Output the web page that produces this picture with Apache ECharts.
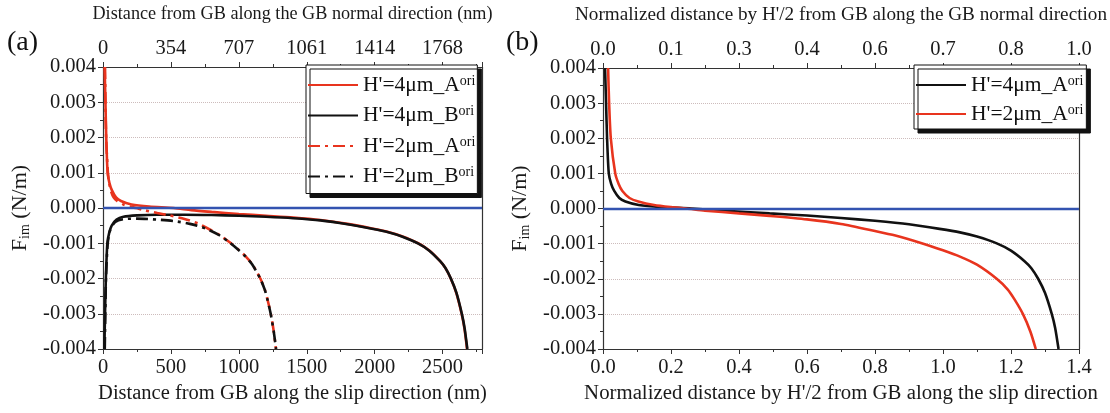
<!DOCTYPE html>
<html><head><meta charset="utf-8">
<script src="https://cdn.jsdelivr.net/npm/echarts@6/dist/echarts.min.js"></script>
<style>html,body{margin:0;padding:0;background:#fff}#c{width:1110px;height:413px}</style>
</head><body><div id="c"></div>
<script>
const FONT = "'Liberation Serif','Times New Roman',serif";

// ---- tick labels ----
const yTickLabels = ['-0.004','-0.003','-0.002','-0.001','0.000','0.001','0.002','0.003','0.004'];
const leftBottomTicks = ['0','500','1000','1500','2000','2500'];
const leftTopTicks = ['0','354','707','1061','1414','1768'];
const rightBottomTicks = ['0.0','0.2','0.4','0.6','0.8','1.0','1.2','1.4'];
const rightTopTicks = ['0.0','0.1','0.3','0.4','0.6','0.7','0.8','1.0'];

// ---- legend labels ----
const legendLeft = ["H'=4μm_A", "H'=4μm_B", "H'=2μm_A", "H'=2μm_B"];
const legendRight = ["H'=4μm_A", "H'=2μm_A"];

// ---- (a) distance along slip direction (nm), F_im (N/m) ----
const a_H4A = [[12,0.0040],[18,0.0030],[24,0.0020],[34,0.0010],[48,0.0007],[66,0.0005],[96,0.0003],[132,0.0002],[210,0.0001],[340,0.00004],[520,0.0],[650,-0.00006],[800,-0.00011],[1000,-0.00017],[1200,-0.00022],[1400,-0.00027],[1600,-0.00034],[1800,-0.00045],[1980,-0.00058],[2100,-0.00068],[2200,-0.0008],[2320,-0.001],[2400,-0.0012],[2480,-0.0015],[2520,-0.0017],[2560,-0.002],[2600,-0.0024],[2640,-0.003],[2660,-0.0034],[2680,-0.0040]];
const a_H4B = [[10,-0.0040],[15,-0.0030],[21,-0.0020],[32,-0.0010],[46,-0.0007],[64,-0.0005],[100,-0.00033],[150,-0.00025],[250,-0.00021],[400,-0.00019],[600,-0.00019],[800,-0.0002],[1000,-0.00022],[1200,-0.00025],[1400,-0.00029],[1600,-0.00035],[1800,-0.00046],[1980,-0.00059],[2100,-0.00069],[2200,-0.00081],[2322,-0.00101],[2402,-0.00121],[2482,-0.00151],[2522,-0.00171],[2562,-0.00201],[2602,-0.00241],[2642,-0.00301],[2662,-0.00341],[2682,-0.0040]];
const a_H2A = [[15,0.0040],[18,0.0030],[23,0.0020],[36,0.0010],[46,0.0007],[57,0.0005],[78,0.0003],[104,0.0002],[150,0.0001],[200,0.00004],[245,0.0],[300,-0.00006],[400,-0.00014],[490,-0.00021],[600,-0.00031],[700,-0.00044],[800,-0.00064],[860,-0.00077],[935,-0.00098],[1000,-0.00119],[1050,-0.00137],[1100,-0.0016],[1158,-0.002],[1190,-0.0023],[1210,-0.00258],[1235,-0.003],[1257,-0.0035],[1273,-0.0040]];
const a_H2B = [[13,-0.0040],[17,-0.0030],[22,-0.0020],[35,-0.0010],[55,-0.0006],[90,-0.0004],[147,-0.00032],[250,-0.0003],[400,-0.00033],[520,-0.00037],[640,-0.00045],[760,-0.00059],[860,-0.00078],[935,-0.00099],[1000,-0.0012],[1050,-0.00138],[1100,-0.00161],[1158,-0.00201],[1190,-0.00231],[1210,-0.00259],[1235,-0.00301],[1257,-0.00351],[1274,-0.0040]];

// ---- (b) normalized distance by H'/2 ----
const b_H4A = [[0.006,0.0040],[0.009,0.0030],[0.012,0.0020],[0.017,0.0010],[0.024,0.0007],[0.033,0.0005],[0.048,0.0003],[0.066,0.0002],[0.105,0.0001],[0.17,0.00004],[0.26,0.0],[0.35,-0.00006],[0.49,-0.00014],[0.6,-0.0002],[0.7,-0.00027],[0.8,-0.00035],[0.9,-0.00045],[0.99,-0.00058],[1.05,-0.00068],[1.1,-0.0008],[1.16,-0.001],[1.2,-0.0012],[1.24,-0.0015],[1.26,-0.0017],[1.28,-0.002],[1.3,-0.0024],[1.32,-0.003],[1.33,-0.0034],[1.34,-0.0040]];
const b_H2A = [[0.015,0.0040],[0.018,0.0030],[0.023,0.0020],[0.036,0.0010],[0.046,0.0007],[0.057,0.0005],[0.078,0.0003],[0.104,0.0002],[0.15,0.0001],[0.2,0.00004],[0.245,0.0],[0.3,-0.00006],[0.4,-0.00014],[0.49,-0.00021],[0.6,-0.00031],[0.7,-0.00044],[0.8,-0.00064],[0.86,-0.00077],[0.935,-0.00098],[1.0,-0.00119],[1.05,-0.00137],[1.1,-0.0016],[1.158,-0.002],[1.19,-0.0023],[1.21,-0.00258],[1.235,-0.003],[1.257,-0.0035],[1.273,-0.0040]];

const RED = '#e8341e', BLACK = '#111111', BLUE = '#3353b0';
const DASHDOT = [12, 5, 3, 5];

const chart = echarts.init(document.getElementById('c'));

const lbl = {fontFamily: FONT, fontSize: 20.5, color: '#1a1a1a'};
function nameStyle(sz){ return {fontFamily: FONT, fontSize: sz, color: '#1a1a1a'}; }
const yNameStyle = {fontFamily: FONT, fontSize: 22, color: '#1a1a1a',
  rich: {f: {fontFamily: FONT, fontSize: 22, color: '#1a1a1a'},
         sub: {fontFamily: FONT, fontSize: 14, color: '#1a1a1a', verticalAlign: 'bottom', padding: [9,0,0,0]}}};
const axLine = {show: true, onZero: false, lineStyle: {color: '#333', width: 1.2}};
const tick = {show: true, length: 5, lineStyle: {color: '#333'}};
const minor = {show: true, splitNumber: 2, length: 3, lineStyle: {color: '#333'}};
const splitL = {show: true, lineStyle: {color: '#cdbcbc', type: 'dotted', width: 1}};

function yIdx(v){ return Math.round((v + 0.004) / 0.001); }

const legendRich = {
  t: {fontFamily: FONT, fontSize: 21.5, color: '#111', lineHeight: 22},
  s: {fontFamily: FONT, fontSize: 14, color: '#111', verticalAlign: 'top', lineHeight: 22, padding: [0,0,10,0]}
};
function legFmt(arr, keys){ return function(name){ const i = keys.indexOf(name); return '{t|' + arr[i] + '}{s|ori}'; }; }

const leftKeys = ['L4A','L4B','L2A','L2B'];
const rightKeys = ['R4A','R2A'];

function line(name, data, color, dash, xi, yi, extra){
  return Object.assign({
    name, type: 'line', data, xAxisIndex: xi, yAxisIndex: yi,
    showSymbol: false, symbol: 'none', smooth: 0.25, clip: true,
    lineStyle: {color, width: 2.6, type: dash || 'solid'},
    itemStyle: {color}
  }, extra || {});
}
const zeroLine = {silent: true, symbol: 'none', label: {show: false},
  lineStyle: {color: BLUE, width: 2.4, type: 'solid'}, data: [{yAxis: 0}]};

const legendCommon = {
  orient: 'vertical', itemWidth: 50, itemHeight: 14,
  textStyle: {rich: legendRich, fontFamily: FONT, fontSize: 21.5},
  backgroundColor: '#fff', borderColor: '#111', borderWidth: 1, borderRadius: 0,
  shadowColor: '#111', shadowBlur: 0, shadowOffsetX: 4, shadowOffsetY: 4, selectedMode: false,
  itemStyle: {color: 'rgba(0,0,0,0)', borderColor: 'rgba(0,0,0,0)', borderWidth: 0, opacity: 0}
};

const option = {
  backgroundColor: '#fff',
  animation: false,
  grid: [
    {left: 103, top: 65, width: 379, height: 284},
    {left: 603, top: 65, width: 486, height: 284}
  ],
  xAxis: [
    {gridIndex: 0, type: 'value', position: 'bottom', min: 0, max: 2790, interval: 500,
     axisLine: axLine, axisTick: tick, minorTick: minor, splitLine: {show: false},
     axisLabel: Object.assign({margin: 8, showMaxLabel: false, formatter: v => leftBottomTicks[Math.round(v/500)] ?? ''}, lbl),
     name: 'Distance from GB along the slip direction (nm)', nameLocation: 'middle', nameGap: 34, nameTextStyle: nameStyle(20.5)},
    {gridIndex: 0, type: 'value', position: 'top', min: 0, max: 2790, interval: 500,
     axisLine: axLine, axisTick: tick, minorTick: minor, splitLine: {show: false},
     axisLabel: Object.assign({margin: 8, showMaxLabel: false, formatter: v => leftTopTicks[Math.round(v/500)] ?? ''}, lbl),
     name: 'Distance from GB along the GB normal direction (nm)', nameLocation: 'middle', nameGap: 44, nameTextStyle: nameStyle(18.2)},
    {gridIndex: 1, type: 'value', position: 'bottom', min: 0, max: 1.4, interval: 0.2,
     axisLine: axLine, axisTick: tick, minorTick: minor, splitLine: {show: false},
     axisLabel: Object.assign({margin: 8, formatter: v => rightBottomTicks[Math.round(v/0.2)] ?? ''}, lbl),
     name: "Normalized distance by H'/2 from GB along the slip direction", nameLocation: 'middle', nameGap: 34, nameTextStyle: nameStyle(20.8)},
    {gridIndex: 1, type: 'value', position: 'top', min: 0, max: 1.4, interval: 0.2,
     axisLine: axLine, axisTick: tick, minorTick: minor, splitLine: {show: false},
     axisLabel: Object.assign({margin: 8, formatter: v => rightTopTicks[Math.round(v/0.2)] ?? ''}, lbl),
     name: "Normalized distance by H'/2 from GB along the GB normal direction", nameLocation: 'middle', nameGap: 44, nameTextStyle: nameStyle(19.2)}
  ],
  yAxis: [
    {gridIndex: 0, type: 'value', position: 'left', min: -0.004, max: 0.004, interval: 0.001,
     axisLine: axLine, axisTick: tick, minorTick: minor, splitLine: splitL,
     axisLabel: Object.assign({margin: 7, formatter: v => yTickLabels[yIdx(v)]}, lbl),
     name: '{f|F}{sub|im}{f| (N/m)}', nameLocation: 'middle', nameRotate: 90, nameGap: 71, nameTextStyle: yNameStyle},
    {gridIndex: 0, type: 'value', position: 'right', min: -0.004, max: 0.004, interval: 0.001,
     axisLine: axLine, axisTick: {show: false}, axisLabel: {show: false}, splitLine: {show: false}},
    {gridIndex: 1, type: 'value', position: 'left', min: -0.004, max: 0.004, interval: 0.001,
     axisLine: axLine, axisTick: tick, minorTick: minor, splitLine: splitL,
     axisLabel: Object.assign({margin: 7, formatter: v => yTickLabels[yIdx(v)]}, lbl),
     name: '{f|F}{sub|im}{f| (N/m)}', nameLocation: 'middle', nameRotate: 90, nameGap: 71, nameTextStyle: yNameStyle},
    {gridIndex: 1, type: 'value', position: 'right', min: -0.004, max: 0.004, interval: 0.001,
     axisLine: axLine, axisTick: {show: false}, axisLabel: {show: false}, splitLine: {show: false}}
  ],
  legend: [
    Object.assign({data: leftKeys, left: 306, top: 65, itemGap: 6.5, padding: [9, 2, 4, 1], formatter: legFmt(legendLeft, leftKeys)}, legendCommon),
    Object.assign({data: rightKeys, left: 914, top: 65, itemGap: 5, padding: [9, 3, 2, 1], formatter: legFmt(legendRight, rightKeys)}, legendCommon)
  ],
  graphic: [
    {type: 'text', left: 7, top: 29, style: {text: '(a)', font: "28px 'Liberation Serif', serif", fill: '#111'}},
    {type: 'text', left: 506, top: 29, style: {text: '(b)', font: "28px 'Liberation Serif', serif", fill: '#111'}}
  ],
  series: [
    line('L4A', a_H4A, RED, 'solid', 0, 0, {markLine: zeroLine}),
    line('L4B', a_H4B, BLACK, 'solid', 0, 0),
    line('L2A', a_H2A, RED, DASHDOT, 0, 0),
    line('L2B', a_H2B, BLACK, DASHDOT, 0, 0),
    line('R4A', b_H4A, BLACK, 'solid', 2, 2, {markLine: zeroLine}),
    line('R2A', b_H2A, RED, 'solid', 2, 2)
  ]
};
chart.setOption(option);
</script>
</body></html>
